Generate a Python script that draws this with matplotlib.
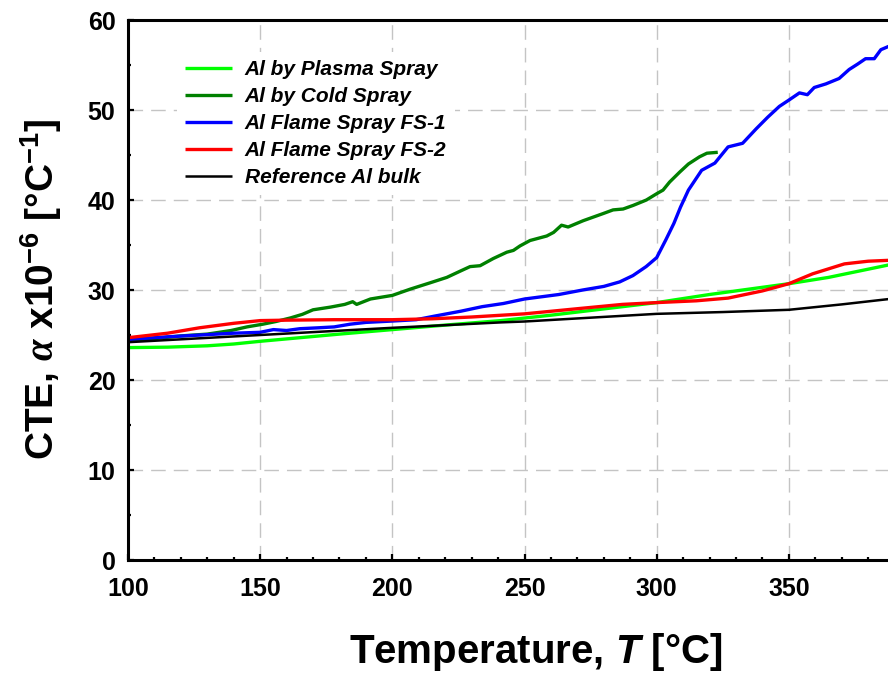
import matplotlib
matplotlib.use("Agg")
import matplotlib.pyplot as plt
from matplotlib import font_manager
from matplotlib.ticker import MultipleLocator

# ---- data: CTE (x10^-6 1/°C) vs temperature (°C) ----
T_plasma = [100, 115, 130, 140, 150, 165, 180, 200, 220, 241, 260, 280, 300, 320, 340, 350, 365, 388]
cte_plasma = [23.6, 23.65, 23.8, 24.0, 24.3, 24.7, 25.1, 25.6, 26.1, 26.6, 27.2, 27.9, 28.6, 29.5, 30.3, 30.7, 31.4, 32.8]

T_cold = [100, 110, 120, 130, 139, 145, 151, 156, 161.5, 166, 170, 176.6, 182, 185, 186.5, 191.7,
          200, 206.8, 214.3, 220.6, 225.7, 229.4, 233.2, 238.2, 243.3, 245.8, 248.3, 252.1, 258.4,
          261, 264, 266.5, 272.2, 276, 279.8, 283.5, 287.3, 291.1, 296.1, 300, 302.4, 304.9, 308.7,
          312, 316.2, 319, 323.1]
cte_cold = [24.4, 24.6, 24.9, 25.1, 25.5, 25.9, 26.2, 26.5, 26.9, 27.3, 27.8, 28.1, 28.4, 28.7, 28.4, 29.0,
            29.4, 30.1, 30.8, 31.4, 32.1, 32.6, 32.7, 33.5, 34.2, 34.4, 34.9, 35.5, 36.0,
            36.4, 37.2, 37.0, 37.7, 38.1, 38.5, 38.9, 39.0, 39.4, 40.0, 40.7, 41.1, 42.0, 43.1,
            44.0, 44.8, 45.2, 45.3]

T_fs1 = [100, 115, 127.5, 140, 150, 155, 160, 165, 172, 178, 184, 190, 200, 209, 216, 226, 234, 242,
         250, 263, 272, 280, 286, 291, 296, 300, 303.5, 306.5, 309, 312, 317, 322, 327, 332.5, 337.6,
         342, 346.4, 350, 354, 357, 359.6, 364, 369, 372.8, 376, 379, 382.3, 384.8, 388]
cte_fs1 = [24.5, 24.8, 25.0, 25.2, 25.3, 25.6, 25.5, 25.7, 25.8, 25.9, 26.2, 26.4, 26.55, 26.7, 27.1, 27.65, 28.15, 28.5,
           29.0, 29.5, 30.0, 30.4, 30.9, 31.6, 32.6, 33.6, 35.6, 37.4, 39.2, 41.1, 43.3, 44.1, 45.9, 46.3, 47.9,
           49.2, 50.4, 51.1, 51.9, 51.7, 52.5, 52.9, 53.5, 54.5, 55.1, 55.7, 55.7, 56.7, 57.1]

T_fs2 = [100, 115, 127, 140, 150, 160, 178, 200, 215, 230, 250, 271, 287, 300, 315, 327, 340, 350, 359, 371, 380, 388]
cte_fs2 = [24.7, 25.2, 25.8, 26.3, 26.6, 26.65, 26.7, 26.7, 26.8, 27.0, 27.35, 27.95, 28.4, 28.6, 28.8, 29.1,
           29.9, 30.7, 31.8, 32.9, 33.2, 33.3]

T_bulk = [100, 150, 200, 241, 250, 300, 325, 350, 370, 388]
cte_bulk = [24.2, 25.0, 25.8, 26.4, 26.5, 27.35, 27.55, 27.8, 28.4, 29.0]

series = [
    ("Al by Plasma Spray", T_plasma, cte_plasma, "#00ff00", 2.4),
    ("Al by Cold Spray", T_cold, cte_cold, "#008000", 2.4),
    ("Al Flame Spray FS-1", T_fs1, cte_fs1, "#0000ff", 2.4),
    ("Al Flame Spray FS-2", T_fs2, cte_fs2, "#ff0000", 2.4),
    ("Reference Al bulk", T_bulk, cte_bulk, "#000000", 1.8),
]

# ---- fonts ----
available = {f.name for f in font_manager.fontManager.ttflist}
sans = "Liberation Sans" if "Liberation Sans" in available else "DejaVu Sans"

plt.rcParams["font.family"] = [sans, "DejaVu Sans"]
plt.rcParams["font.weight"] = "bold"
plt.rcParams["mathtext.fontset"] = "custom"
plt.rcParams["mathtext.rm"] = f"{sans}:bold"
plt.rcParams["mathtext.bf"] = f"{sans}:bold"
plt.rcParams["mathtext.it"] = f"{sans}:bold:italic"
plt.rcParams["mathtext.sf"] = "Liberation Serif:italic"

fig = plt.figure(figsize=(8.88, 6.73), dpi=100)
ax = fig.add_axes([128 / 888, 113 / 673, 760 / 888, 540 / 673])

for label, t, v, color, lw in series:
    ax.plot(t, v, color=color, lw=lw, label=label, solid_capstyle="butt")

ax.set_xlim(100, 387.5)
ax.set_ylim(0, 60)
ax.xaxis.set_major_locator(MultipleLocator(50))
ax.xaxis.set_minor_locator(MultipleLocator(10))
ax.yaxis.set_major_locator(MultipleLocator(10))
ax.yaxis.set_minor_locator(MultipleLocator(5))

ax.grid(True, which="major", color="#c4c4c4", linewidth=1.0, linestyle=(0, (10.5, 5.8)))
ax.set_axisbelow(True)

for side in ("left", "bottom", "top"):
    ax.spines[side].set_linewidth(2.2)
ax.spines["right"].set_visible(False)

ax.tick_params(which="both", direction="in", width=1.6, top=False, right=False)
ax.tick_params(which="major", length=4.5, pad=9, labelsize=18)
ax.tick_params(axis="x", which="major", pad=12)
ax.tick_params(which="minor", length=2.5)
for lab in ax.get_xticklabels() + ax.get_yticklabels():
    lab.set_fontweight("bold")

leg = ax.legend(loc="upper left", bbox_to_anchor=(177 / 888, 1 - 52 / 673),
                bbox_transform=fig.transFigure, frameon=True, fancybox=False,
                framealpha=1.0, edgecolor="none", facecolor="white",
                prop={"family": sans, "weight": "bold", "style": "italic", "size": 15},
                handlelength=2.25, handletextpad=0.6, labelspacing=0.38, borderpad=0.4,
                borderaxespad=0)

fig.text(536 / 888, 10 / 673, r"Temperature, $\mathit{T}$ [°C]", ha="center", va="baseline",
         fontsize=29, fontweight="bold")

fig.text(41 / 888, 1 - 289.5 / 673,
         r"CTE, $\mathsf{\alpha}$ x10$^{-6}$ [°C$^{-1}$]",
         rotation=90, ha="center", va="center", fontsize=28,
         fontweight="bold", family=[sans, "DejaVu Sans"])

fig.savefig("out.png", dpi=100)
